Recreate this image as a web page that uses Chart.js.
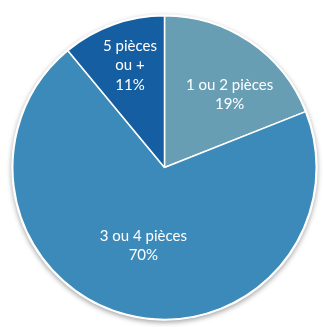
<!DOCTYPE html>
<html lang="fr">
<head>
<meta charset="utf-8">
<script src="https://cdn.jsdelivr.net/npm/chart.js@4"></script>
<style>
  html, body { margin: 0; padding: 0; background: #ffffff; }
  #wrap { width: 325px; height: 327px; }
</style>
</head>
<body>
<div id="wrap"><canvas id="pie" width="325" height="327"></canvas></div>
<script>
// Répartition des logements par nombre de pièces
const categories = ['1 ou 2 pièces', '3 ou 4 pièces', '5 pièces ou +'];
const shares = [19, 70, 11];
// Lignes de texte de chaque étiquette (le pourcentage est ajouté depuis shares)
const labelLines = [['1 ou 2 pièces'], ['3 ou 4 pièces'], ['5 pièces', 'ou +']];

const sliceColors = ['#689eb4', '#3c8aba', '#165ea2'];

// Placement polaire des étiquettes : angle depuis le haut (degrés, sens horaire), distance relative au rayon
const labelPlacement = [
  { angle: 41.8, dist: 0.644 },
  { angle: 195.1, dist: 0.535 },
  { angle: 341.3, dist: 0.71 }
];

const pieShadow = {
  id: 'pieShadow',
  beforeDatasetsDraw(chart) {
    const arc = chart.getDatasetMeta(0).data[0];
    if (!arc) return;
    const { x, y, outerRadius } = arc.getProps(['x', 'y', 'outerRadius'], true);
    const ctx = chart.ctx;
    ctx.save();
    ctx.shadowColor = 'rgba(0,0,0,0.35)';
    ctx.shadowBlur = 5;
    ctx.shadowOffsetY = 2;
    ctx.fillStyle = '#ffffff';
    ctx.beginPath();
    ctx.arc(x, y, outerRadius + 1.5, 0, Math.PI * 2);
    ctx.fill();
    ctx.restore();
  }
};

const sliceLabels = {
  id: 'sliceLabels',
  afterDatasetsDraw(chart) {
    const meta = chart.getDatasetMeta(0);
    const ctx = chart.ctx;
    ctx.save();
    ctx.fillStyle = '#ffffff';
    ctx.font = '15px Lato, "Open Sans", sans-serif';
    ctx.textAlign = 'center';
    ctx.textBaseline = 'middle';
    const lineH = 19.5;
    meta.data.forEach((arc, i) => {
      const { x, y, outerRadius } = arc.getProps(['x', 'y', 'outerRadius'], true);
      const p = labelPlacement[i];
      const a = p.angle * Math.PI / 180;
      const cx = x + Math.sin(a) * outerRadius * p.dist;
      const cy = y - Math.cos(a) * outerRadius * p.dist;
      const lines = labelLines[i].concat([shares[i] + '%']);
      const top = cy - (lines.length - 1) * lineH / 2;
      lines.forEach((t, k) => ctx.fillText(t, cx, top + k * lineH));
    });
    ctx.restore();
  }
};

new Chart(document.getElementById('pie'), {
  type: 'pie',
  data: {
    labels: categories,
    datasets: [{
      data: shares,
      backgroundColor: sliceColors,
      borderColor: '#ffffff',
      borderWidth: 1.5
    }]
  },
  options: {
    responsive: false,
    animation: false,
    layout: { padding: { left: 12, right: 8, top: 15, bottom: 7 } },
    plugins: {
      legend: { display: false },
      tooltip: { enabled: false }
    }
  },
  plugins: [pieShadow, sliceLabels]
});
</script>
</body>
</html>
